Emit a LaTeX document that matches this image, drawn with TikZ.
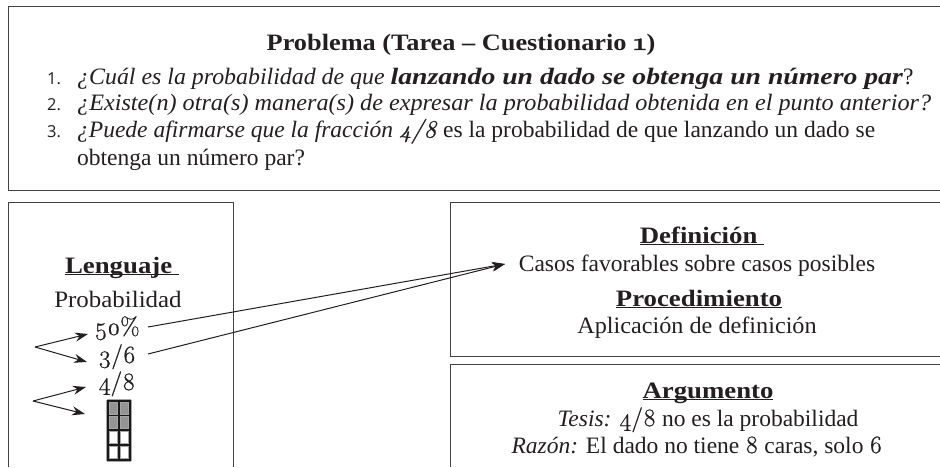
\documentclass[tikz,border=0pt]{standalone}
\usepackage{graphicx}
\usepackage{fontspec}
\setmainfont{Liberation Serif}
\newfontfamily\listfont{Open Sans}
\newfontfamily\onumfont[Numbers=OldStyle,FakeBold=0.8,Scale=1.06]{Latin Modern Roman}
\usetikzlibrary{arrows.meta}
\definecolor{inkdark}{HTML}{231F20}
\newcommand{\onum}[1]{{\onumfont #1}}
\newcommand{\wider}[2]{\scalebox{#1}[1]{#2}}
\newcommand{\heading}[1]{\wider{1.14}{\underline{\smash{\textbf{#1}}}}}
\tikzset{
	txt/.style={anchor=base, inner sep=0pt, text=inkdark, font=\fontsize{23.5}{26}\selectfont},
	txtleft/.style={txt, anchor=base west},
	num/.style={anchor=base west, inner sep=0pt, text=inkdark, font=\fontsize{16.5}{18}\selectfont\listfont},
	framing/.style={line width=1pt, color=inkdark!85},
	arrowline/.style={line width=1pt, color=inkdark, -{Stealth[length=13pt,width=9pt]}},
	gridsoft/.style={line width=3.2pt, color=black!35},
	gridhard/.style={line width=1.2pt, color=black!90}
}

\begin{document}
\begin{tikzpicture}[x=1pt, y=-1pt]
		\useasboundingbox (0, 0) rectangle (940, 467);
		
		%%%%% BOXES %%%%%
		\draw[framing] (940, 6) -- (8, 6) -- (8, 190) -- (940, 190);
		\draw[framing] (8, 467) -- (8, 202) -- (233, 202) -- (233, 467);
		\draw[framing] (940, 202) -- (450, 202) -- (450, 356) -- (940, 356);
		\draw[framing] (940, 364) -- (450, 364) -- (450, 467);
		
		%%%%% PROBLEM %%%%%
		\node[txt] (titulo) at (461, 50) {\wider{1.12}{\textbf{Problema (Tarea – Cuestionario \onum{1})}}};
		\node[num] (n1) at (47, 84) {1.};
		\node[num] (n2) at (47, 110.5) {2.};
		\node[num] (n3) at (47, 137.5) {3.};
		\node[txtleft] (q1) at (77, 84) {\wider{1.016}{\textit{¿Cuál es la probabilidad de que}} \wider{1.18}{\textit{\textbf{lanzando un dado se obtenga un número par}}}?};
		\node[txtleft] (q2) at (77, 110.5) {\wider{1.03}{\textit{¿Existe(n) otra(s) manera(s) de expresar la probabilidad obtenida en el punto anterior?}}};
		\node[txtleft] (q3) at (77, 137.5) {\textit{¿Puede afirmarse que la fracción \onum{4/8}} es la probabilidad de que lanzando un dado se};
		\node[txtleft] (q4) at (77, 165) {obtenga un número par?};
		
		%%%%% LEFT COLUMN %%%%%
		\node[txt] (lenguaje) at (122, 273) {\heading{Lenguaje\ }};
		\node[txt] (probab) at (118, 307) {\wider{1.06}{Probabilidad}};
		\node[txt] (cincuenta) at (117, 335) {\onum{50\%}};
		\node[txt] (tres) at (117, 363) {\onum{3/6}};
		\node[txt] (cuatro) at (117, 390) {\onum{4/8}};
		
		\fill[black!42] (107, 400) rectangle (131, 430);
		\foreach \linea in {gridsoft, gridhard} {
			\foreach \y in {401, 415.5, 430, 445, 460}
				\draw[\linea] (107, \y) -- (131, \y);
			\foreach \x in {108, 119, 130}
				\draw[\linea] (\x, 400) -- (\x, 461);
		}
		
		%%%%% RIGHT COLUMN %%%%%
		\node[txt] (definicion) at (702, 243) {\heading{Definición\ }};
		\node[txt] (casos) at (697, 271) {Casos favorables sobre casos posibles};
		\node[txt] (proced) at (699, 306) {\heading{Procedimiento}};
		\node[txt] (aplic) at (697, 333) {\wider{1.03}{Aplicación de definición}};
		\node[txt] (argum) at (708, 398) {\heading{Argumento}};
		\node[txt] (tesis) at (708, 426) {\textit{Tesis:} \onum{4/8} no es la probabilidad};
		\node[txt] (razon) at (697, 453) {\textit{Razón:} El dado no tiene \onum{8} caras, solo \onum{6}};
		
		%%%%% ARROWS %%%%%
		\coordinate (forka) at (35, 347);
		\coordinate (forkb) at (33, 401);
		\coordinate (dado) at (85, 414);
		\coordinate (entrada) at (505, 264);
		\coordinate (salea) at (148, 327);
		\coordinate (saleb) at (148, 354);
		\draw[arrowline] (forka) -- (88, 334);
		\draw[arrowline] (forka) -- (87, 362);
		\draw[arrowline] (forkb) -- (86, 387);
		\draw[arrowline] (forkb) -- (dado);
		\draw[arrowline] (salea) -- (entrada);
		\draw[arrowline] (saleb) -- (entrada);
	\end{tikzpicture}
\end{document}
